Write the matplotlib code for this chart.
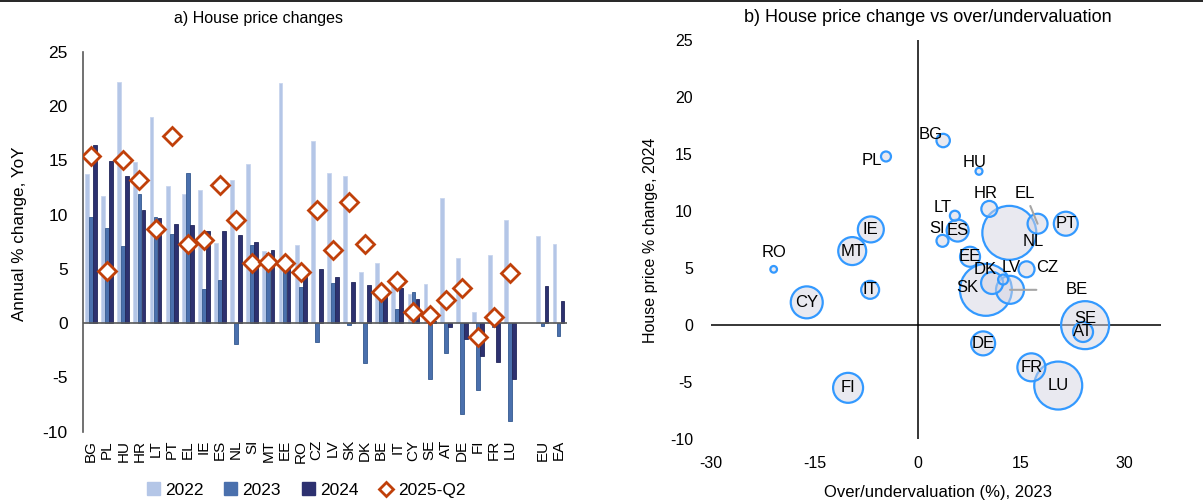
import numpy as np
import matplotlib
matplotlib.use("Agg")
import matplotlib.pyplot as plt
from matplotlib.patches import Patch
from matplotlib.lines import Line2D

plt.rcParams["font.family"] = ["Liberation Sans", "DejaVu Sans"]
plt.rcParams["axes.unicode_minus"] = False

# ---- panel a) data
countries = ["BG", "PL", "HU", "HR", "LT", "PT", "EL", "IE", "ES", "NL", "SI", "MT", "EE", "RO",
             "CZ", "LV", "SK", "DK", "BE", "IT", "CY", "SE", "AT", "DE", "FI", "FR", "LU", "", "EU", "EA"]
nan = np.nan
y2022 = [13.7, 11.7, 22.2, 14.8, 19.0, 12.6, 11.9, 12.3, 7.4, 13.2, 14.7, 6.6, 22.1, 7.2,
         16.8, 13.8, 13.6, 4.7, 5.5, 3.6, 2.7, 3.6, 11.5, 6.0, 1.0, 6.3, 9.5, nan, 8.0, 7.3]
y2023 = [9.8, 8.8, 7.1, 11.9, 9.8, 8.2, 13.8, 3.1, 4.0, -1.9, 7.2, 6.5, 6.2, 3.3,
         -1.7, 3.7, -0.2, -3.7, 2.6, 1.3, 2.9, -5.2, -2.8, -8.4, -6.2, -0.4, -9.0, nan, -0.3, -1.2]
y2024 = [16.4, 14.9, 13.6, 10.4, 9.7, 9.1, 9.0, 8.5, 8.5, 8.1, 7.5, 6.7, 5.8, 4.8,
         5.0, 4.2, 3.8, 3.5, 2.6, 3.2, 2.2, 0.2, -0.4, -1.5, -3.0, -3.6, -5.2, nan, 3.4, 2.0]
y2025q2 = [15.4, 4.8, 15.0, 13.2, 8.7, 17.2, 7.3, 7.7, 12.7, 9.5, 5.5, 5.6, 5.5, 4.7,
           10.4, 6.7, 11.2, 7.3, 2.9, 3.9, 1.0, 0.7, 2.1, 3.2, -1.3, 0.6, 4.6, nan, nan, nan]

# ---- panel b) data
b_labels = ["BG", "PL", "HU", "RO", "IE", "MT", "IT", "CY", "FI", "HR", "EL", "NL", "PT", "LT",
            "SI", "ES", "EE", "DK", "LV", "SK", "BE", "CZ", "SE", "AT", "DE", "FR", "LU"]
b_over = [3.7, -4.6, 8.9, -20.9, -6.8, -9.5, -6.9, -16.1, -10.1, 10.4, 17.4, 13.3, 21.5, 5.4,
          3.6, 5.8, 7.6, 10.8, 12.4, 9.9, 13.4, 15.8, 24.3, 24.0, 9.5, 16.5, 20.4]
b_hpc = [16.2, 14.8, 13.5, 4.9, 8.4, 6.5, 3.1, 2.0, -5.5, 10.2, 8.9, 8.1, 8.9, 9.6,
         7.4, 8.3, 6.0, 3.7, 4.0, 3.1, 3.1, 4.9, 0.0, -0.6, -1.6, -3.7, -5.3]
b_weight = [45, 25, 12, 11, 169, 196, 81, 256, 225, 64, 100, 729, 144, 25,
            36, 121, 100, 121, 25, 676, 196, 64, 576, 100, 144, 196, 576]

# label offsets (points) for labels that sit outside their bubble
offsets = {"BG": (-9, 4), "PL": (-10, -3), "HU": (-3, 6), "RO": (0, 12), "HR": (-3, 11),
           "EL": (-9, 22), "NL": (17, -6), "LT": (-9, 6), "SI": (-4, 9), "DK": (-5, 10),
           "LV": (6, 9), "SK": (-13, 2), "BE": (48, 0), "CZ": (15, 1), "SE": (0, 5)}
leaders = {"EL", "BE"}

c2022, c2023, c2024 = "#b4c6e7", "#4a70ad", "#2d3170"
cdiam = "#c0400a"

fig = plt.figure(figsize=(12.03, 5.03), dpi=100)
fig.add_artist(Line2D([0, 1], [0.998, 0.998], color="black", lw=1.2))

# ---------------- panel a
ax1 = fig.add_axes([0.069, 0.142, 0.402, 0.755])
x = np.arange(len(countries))
w = 0.25
ax1.bar(x - w, y2022, width=w * 0.95, color=c2022, edgecolor="#c9d6ee", linewidth=0.6, zorder=2)
ax1.bar(x, y2023, width=w * 0.95, color=c2023, edgecolor="#34598f", linewidth=0.6, zorder=2)
ax1.bar(x + w, y2024, width=w * 0.95, color=c2024, edgecolor="#23275a", linewidth=0.6, zorder=2)
ax1.plot(x, y2025q2, linestyle="none", marker="D", markersize=9, markerfacecolor="white",
         markeredgecolor=cdiam, markeredgewidth=2, zorder=4)
ax1.axhline(0, color="#595959", lw=1.2, zorder=3)

ax1.set_xlim(-0.5, len(countries) - 0.5)
ax1.set_ylim(-10, 25)
ax1.set_yticks(np.arange(-10, 26, 5))
ax1.set_xticks(x)
ax1.set_xticklabels(countries, rotation=90, fontsize=11)
ax1.tick_params(axis="x", length=0, pad=6)
ax1.tick_params(axis="y", length=0, pad=11, labelsize=12.5)
for s in ["top", "right", "bottom"]:
    ax1.spines[s].set_visible(False)
ax1.spines["left"].set_color("#595959")
ax1.spines["left"].set_linewidth(1.2)

fig.text(259 / 1203, 1 - 18 / 503, "a) House price changes", ha="center", va="center", fontsize=11.5)
fig.text(20 / 1203, 1 - 234 / 503, "Annual % change, YoY", rotation=90, ha="center", va="center",
         fontsize=12.3)

handles = [Patch(facecolor=c2022, edgecolor=c2022), Patch(facecolor=c2023, edgecolor=c2023),
           Patch(facecolor=c2024, edgecolor=c2024),
           Line2D([], [], linestyle="none", marker="D", markersize=7, markerfacecolor="white",
                  markeredgecolor=cdiam, markeredgewidth=2)]
fig.legend(handles, ["2022", "2023", "2024", "2025-Q2"], loc="center", ncol=4, frameon=False,
           bbox_to_anchor=(306 / 1203, 1 - 490 / 503), fontsize=12.5, handlelength=0.75,
           handleheight=0.75, handletextpad=0.3, columnspacing=1.2)

# ---------------- panel b
ax2 = fig.add_axes([0.591, 0.127, 0.374, 0.793])
ax2.axhline(0, color="black", lw=1.1, zorder=1)
ax2.axvline(0, color="black", lw=1.1, zorder=1)
sizes = np.array(b_weight) * 2.07
order = np.argsort(sizes)[::-1]
ax2.scatter(np.array(b_over)[order], np.array(b_hpc)[order], s=sizes[order],
            facecolors=(0.83, 0.83, 0.89, 0.5), edgecolors="#3399ff", linewidths=1.6, zorder=2)
for lab, xv, yv in zip(b_labels, b_over, b_hpc):
    dx, dy = offsets.get(lab, (0, 0))
    if lab in leaders:
        shrink = 19 if lab == "BE" else 2
        ax2.annotate(lab, (xv, yv), xytext=(dx, dy), textcoords="offset points", ha="center",
                     va="center", fontsize=12, zorder=5,
                     arrowprops=dict(arrowstyle="-", color="#a6a6a6", lw=1.5,
                                     shrinkA=shrink, shrinkB=0))
    else:
        ax2.annotate(lab, (xv, yv), xytext=(dx, dy), textcoords="offset points", ha="center",
                     va="center", fontsize=12, zorder=5)

ax2.set_xlim(-30, 35.3)
ax2.set_ylim(-10, 25)
ax2.set_xticks([-30, -15, 0, 15, 30])
ax2.set_yticks(np.arange(-10, 26, 5))
ax2.tick_params(axis="x", length=0, pad=12, labelsize=11.5)
ax2.tick_params(axis="y", length=0, pad=13, labelsize=11.5)
for s in ax2.spines.values():
    s.set_visible(False)

fig.text(928 / 1203, 1 - 18 / 503, "b) House price change vs over/undervaluation", ha="center",
         va="center", fontsize=13)
fig.text(650 / 1203, 1 - 240 / 503, "House price % change, 2024", rotation=90, ha="center",
         va="center", fontsize=11.5)
fig.text(938 / 1203, 1 - 493 / 503, "Over/undervaluation (%), 2023", ha="center", va="center",
         fontsize=12)

fig.savefig("out.png", dpi=100)
